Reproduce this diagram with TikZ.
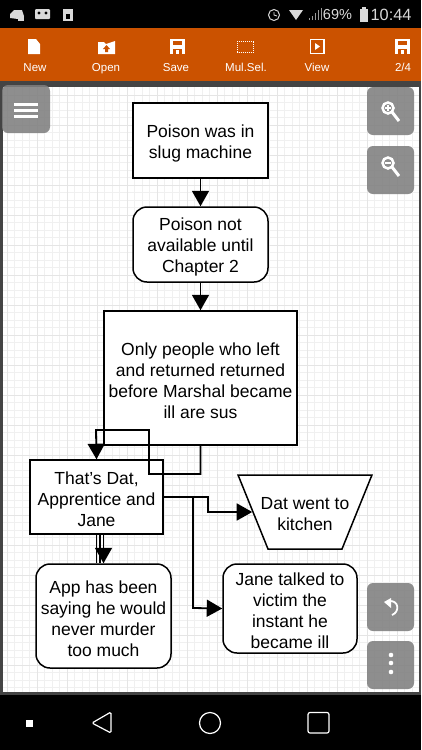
\documentclass[tikz,border=0pt]{standalone}
\usepackage{fontspec}
\setmainfont{Liberation Sans}
\usetikzlibrary{positioning,arrows.meta,shapes.geometric}
\definecolor{barorange}{HTML}{CB5200}
\definecolor{btngray}{HTML}{7F7F7F}
\definecolor{framegray}{HTML}{444444}
\tikzset{
  flowbox/.style={draw, line width=1.5pt, fill=white, inner sep=0pt},
  roundbox/.style={flowbox, rounded corners=14pt},
  flowtext/.style={align=center, font=\fontsize{17.5}{21}\selectfont, inner sep=0pt, yshift=-2.5pt},
  flowarrow/.style={line width=1.8pt, -{Triangle[width=17pt,length=15.5pt]}},
  flowline/.style={line width=1.8pt},
  barlabel/.style={text=white, anchor=base, font=\fontsize{11.5}{12}\selectfont},
  floatbtn/.style={fill=btngray, fill opacity=.88, rounded corners=6pt},
  statustext/.style={text=white!85!black, anchor=east}
}
\begin{document}
\begin{tikzpicture}[x=1pt,y=-1pt]
\useasboundingbox (0,0) rectangle (421,750);
\fill[black] (0,0) rectangle (421,750);
% status bar
\node[statustext, font=\fontsize{16.3}{18}\selectfont] (clock) at (415,15) {10:44};
\node[statustext, font=\fontsize{14.5}{18}\selectfont] (battery) at (355.5,15) {69\%};
\fill[white!85!black] (360,9) rectangle (368,22);
\fill[white!85!black] (362,7) rectangle (366,9);
\draw[white!85!black, line width=1pt] (274,15) circle (5.5);
\draw[white!85!black, line width=0.8pt] (274,12) -- (274,15) -- (277,16);
\fill[white!85!black] (289,10) -- (303,10) -- (296,20) -- cycle;
\foreach \x/\h in {309/2,312/4,315/7,318/10,321/12} {
  \draw[white!60!black, line width=0.7pt] (\x,20) -- (\x,20-\h);
}
\fill[white!85!black] (10,18) -- (10,14) -- (14,10) -- (22,10) -- (24,16) -- (18,19) -- cycle;
\fill[white!85!black] (18,16) rectangle (24,21);
\fill[white!85!black, rounded corners=1pt] (35,9) rectangle (50,19);
\fill[black] (39,13) circle (1.7) (46,13) circle (1.7);
\fill[white!85!black] (63,9) rectangle (73,21);
\fill[black] (66,14) rectangle (70,19);
% orange toolbar
\fill[barorange] (0,28) rectangle (421,81);
\fill[framegray] (0,81) rectangle (421,87);
\foreach \x/\t/\n in {35/New/lnew,106/Open/lopen,176/Save/lsave,246/Mul.Sel./lmul,317/View/lview,403/2\slash 4/lpage} {
  \node[barlabel] (\n) at (\x,71.5) {\t};
}
% toolbar icons
\fill[white] (28,39) -- (36,39) -- (40,44) -- (40,54) -- (28,54) -- cycle;
\fill[white] (98,42) -- (104,42) -- (106,44) -- (115,41) -- (115,54) -- (98,54) -- cycle;
\fill[barorange] (106.5,45) -- (110,49) -- (108,49) -- (108,52) -- (105,52) -- (105,49) -- (103,49) -- cycle;
\foreach \x in {170,395} {
  \fill[white] (\x,39) rectangle ++(15,15);
  \fill[barorange] (\x+3,41) rectangle ++(9,4);
  \fill[barorange] (\x+3,49) rectangle ++(9,5);
  \fill[white] (\x+6,50) rectangle ++(3,4);
}
\draw[white, line width=1pt, densely dotted] (237.5,41) rectangle (253.5,52);
\draw[white, line width=1.5pt] (310.5,39.5) rectangle (324,53.5);
\fill[white] (315,43) -- (320,46.5) -- (315,50) -- cycle;
% canvas with grid
\fill[framegray] (0,87) rectangle (421,695);
\fill[white] (3,87) rectangle (419,692);
\foreach \x in {7,14.5,...,419} {
  \draw[black!6, line width=0.7pt] (\x,87) -- (\x,692);
}
\foreach \y in {95,102.5,...,692} {
  \draw[black!6, line width=0.7pt] (3,\y) -- (419,\y);
}
\foreach \x in {7,37,...,419} {
  \draw[black!10, line width=1pt] (\x,87) -- (\x,692);
}
\foreach \y in {95,125,...,692} {
  \draw[black!10, line width=1pt] (3,\y) -- (419,\y);
}
% flow chart
\node[flowbox, minimum width=135, minimum height=75, label={[flowtext]center:{Poison was in\\slug machine}}] (slug) at (200.5,140.5) {};
\node[roundbox, minimum width=135, minimum height=75, label={[flowtext]center:{Poison not\\available until\\Chapter 2}}] (chapter) at (200.5,244.5) {};
\node[flowbox, minimum width=193, minimum height=134, label={[flowtext]center:{Only people who left\\and returned returned\\before Marshal became\\ill are sus}}] (sus) at (200.5,378) {};
\node[flowbox, minimum width=133, minimum height=74, label={[flowtext]center:{That's Dat,\\Apprentice and\\Jane}}] (names) at (96.5,497) {};
\node[flowbox, trapezium, shape border rotate=180, trapezium stretches=true, trapezium left angle=51, trapezium right angle=51, text width=74pt, text height=37pt, minimum width=134, minimum height=74, label={[flowtext]center:{Dat went to\\kitchen}}] (kitchen) at (305,512) {};
\node[roundbox, minimum width=135, minimum height=104, label={[flowtext]center:{App has been\\saying he would\\never murder\\too much}}] (murder) at (103.5,616) {};
\node[roundbox, minimum width=134, minimum height=89, label={[flowtext]center:{Jane talked to\\victim the\\instant he\\became ill}}] (victim) at (290,608.5) {};
\draw[flowarrow] (slug) -- (chapter);
\draw[flowarrow] (chapter) -- (sus);
\draw[flowarrow] (sus.south) |- (149,474) |- (96,430) -- (names.north);
\draw[flowarrow] (names.east) -| (208,512) -- (kitchen.right side);
\draw[flowarrow] (names.east) -| (193,608) -- (victim.west);
\draw[flowline] (names.south) -- (names.south |- murder.north);
\draw[flowline] ([xshift=3.5]names.south) -- ([xshift=3.5]names.south |- murder.north);
\draw[flowarrow] ([xshift=7]names.south) -- (murder.north);
% floating buttons
\fill[floatbtn] (2,85) rectangle (50,133);
\foreach \y in {104,110,116} {
  \fill[white] (14,\y-1.5) rectangle (38,\y+1.5);
}
\foreach \y/\b in {87/zoomin,146/zoomout,583/undo,641/more} {
  \fill[floatbtn] (367,\y) rectangle (414,\y+48);
}
\draw[white, line width=2.5pt] (388,108) circle (5.5);
\draw[white, line width=3pt] (392,112) -- (399,121);
\draw[white, line width=1.6pt] (385,108) -- (391,108) (388,105) -- (388,111);
\draw[white, line width=2.5pt] (388,163) circle (5.5);
\draw[white, line width=3pt] (392,167) -- (399,176);
\draw[white, line width=1.6pt] (385,163) -- (391,163);
\draw[white, line width=1.8pt] (389,601) .. controls (399,600) and (400,612) .. (392,615);
\fill[white] (384,602) -- (391,598) -- (391,608) -- cycle;
\foreach \y in {655,663,672} {
  \fill[white] (391,\y) circle (2.3);
}
% navigation bar
\fill[white] (25.5,719.5) rectangle (32.5,726.5);
\draw[white, line width=1.2pt, rounded corners=1.5pt] (92,723) -- (111,712) -- (111,733) -- cycle;
\draw[white, line width=1.2pt] (210,723) circle (10.5);
\draw[white, line width=1.2pt, rounded corners=2pt] (308,712.5) rectangle (329,733);
\end{tikzpicture}
\end{document}
